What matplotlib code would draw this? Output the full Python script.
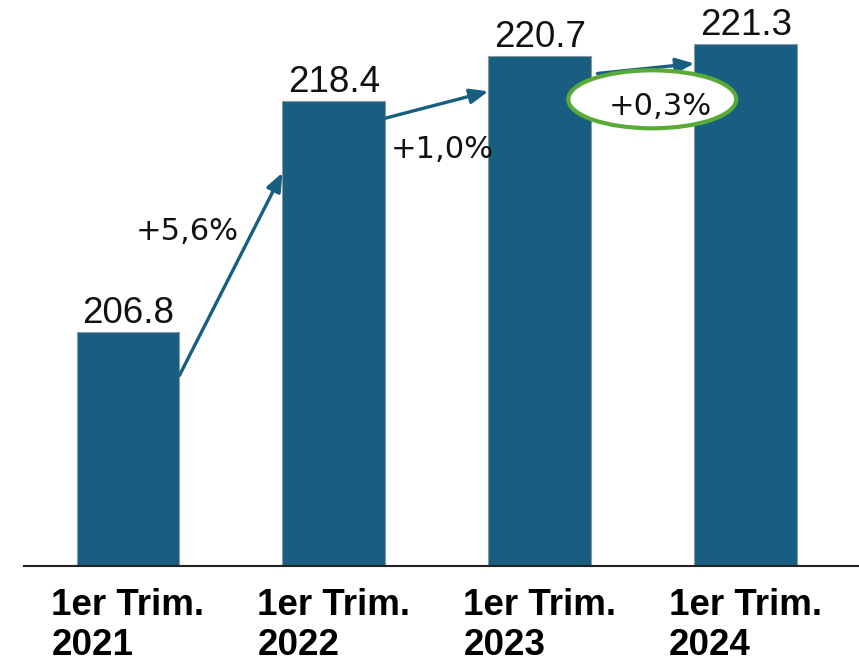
import matplotlib
matplotlib.use("Agg")
import matplotlib.pyplot as plt
from matplotlib.patches import Ellipse

# ── Data ──────────────────────────────────────────────
periods = ["1er Trim.\n2021", "1er Trim.\n2022", "1er Trim.\n2023", "1er Trim.\n2024"]
values = [206.8, 218.4, 220.7, 221.3]
growth = ["+5,6%", "+1,0%", "+0,3%"]

bar_color = "#175e80"
green = "#5aab35"

fig = plt.figure(figsize=(8.59, 6.63), dpi=100)
ax = fig.add_axes([24 / 859, 1 - 566 / 663, 1 - 24 / 859, 566 / 663])

x = range(len(values))
ax.bar(x, values, width=0.5, color=bar_color, edgecolor="#8a9aa3", linewidth=0.8, zorder=2)
ax.set_xlim(-0.505, 3.55)
ax.set_ylim(195, 223.5)

# value labels
for i, v in enumerate(values):
    ax.text(i, v + 0.45, f"{v:.1f}", ha="center", va="baseline",
            fontsize=26.5, family="Liberation Sans", color="#111111")

# growth arrows: (start y offset below bar i, end y offset below bar i+1)
arrow_offsets = [(2.2, 3.6), (0.85, 1.8), (0.9, 1.0)]
arrow_dx = [(0.0, 0.0), (0.0, 0.0), (0.03, 0.0)]
for i, ((o1, o2), (d1, d2)) in enumerate(zip(arrow_offsets, arrow_dx)):
    ax.annotate("", xy=(i + 1 - 0.25 - d2, values[i + 1] - o2),
                xytext=(i + 0.25 + d1, values[i] - o1),
                arrowprops=dict(arrowstyle="-|>,head_length=1.1,head_width=0.45",
                                color=bar_color, lw=2.4, shrinkA=0, shrinkB=0),
                zorder=3)

# growth labels
label_pos = [(0.286, 211.41), (1.524, 215.54), (2.583, 217.71)]
for (lx, ly), g in zip(label_pos, growth):
    ax.text(lx, ly, g, ha="center", va="baseline", fontsize=22,
            family="DejaVu Sans", color="#111111", zorder=5)

# highlight ellipse around last growth
ax.add_patch(Ellipse((2.546, 218.5), width=168 / 206, height=58 / 19.86,
                     facecolor="white", edgecolor=green, lw=3, zorder=4))

# axes styling
for s in ["top", "right", "left"]:
    ax.spines[s].set_visible(False)
ax.spines["bottom"].set_linewidth(1.5)
ax.spines["bottom"].set_color("#222222")
ax.set_yticks([])
ax.set_xticks(list(x))
ax.set_xticklabels(periods, fontsize=26.5, fontweight="bold", family="Liberation Sans",
                   multialignment="left", linespacing=1.18)
ax.tick_params(axis="x", length=0, pad=16)

fig.savefig("out.png", dpi=100)
